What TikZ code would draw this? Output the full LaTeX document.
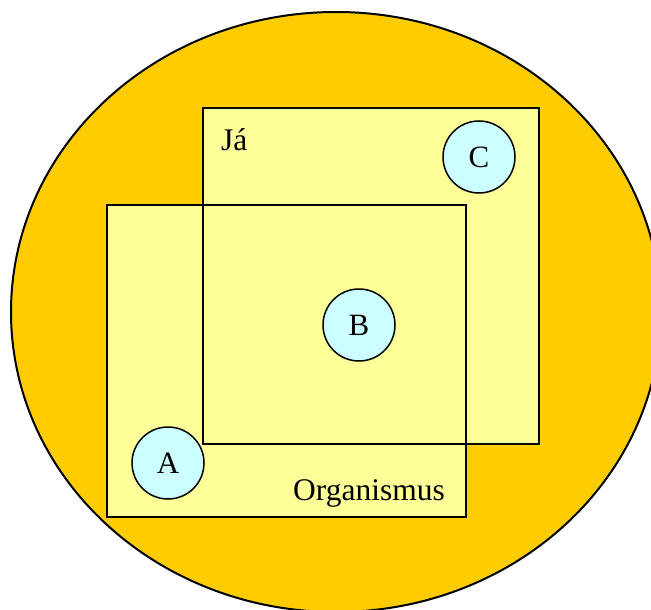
\documentclass[tikz,border=0pt]{standalone}
\usepackage{fontspec}
\setmainfont{Liberation Serif}
\definecolor{gold}{HTML}{FFCC00}
\definecolor{paleyellow}{HTML}{FFFF99}
\definecolor{palecyan}{HTML}{CCFFFF}
\begin{document}
\begin{tikzpicture}[x=1pt,y=-1pt,
  region/.style={fill=paleyellow},
  regionline/.style={draw=black,line width=2pt},
  item/.style={circle,draw=black,line width=1.5pt,fill=palecyan,minimum size=72pt,inner sep=0pt,font=\fontsize{31}{37}\selectfont},
  lbl/.style={font=\fontsize{31.5}{38}\selectfont,inner sep=0pt}]
\useasboundingbox (0,0) rectangle (651,610);
\begin{scope}
\clip (0,0) rectangle (651,610);
\draw[fill=gold,line width=2pt] (336,312) ellipse [x radius=325, y radius=300];
\end{scope}
\fill[region] (107,205) rectangle (466,517);
\fill[region] (203,108) rectangle (539,444);
\draw[regionline] (107,205) rectangle (466,517);
\draw[regionline] (203,108) rectangle (539,444);
\node[lbl,anchor=west] (ja) at (221,140) {Já};
\node[lbl] (org) at (369,493) {Organismus};
\node[item] (c) at (479,157) {C};
\node[item] (b) at (359,325) {B};
\node[item] (a) at (168,463) {A};
\end{tikzpicture}
\end{document}
